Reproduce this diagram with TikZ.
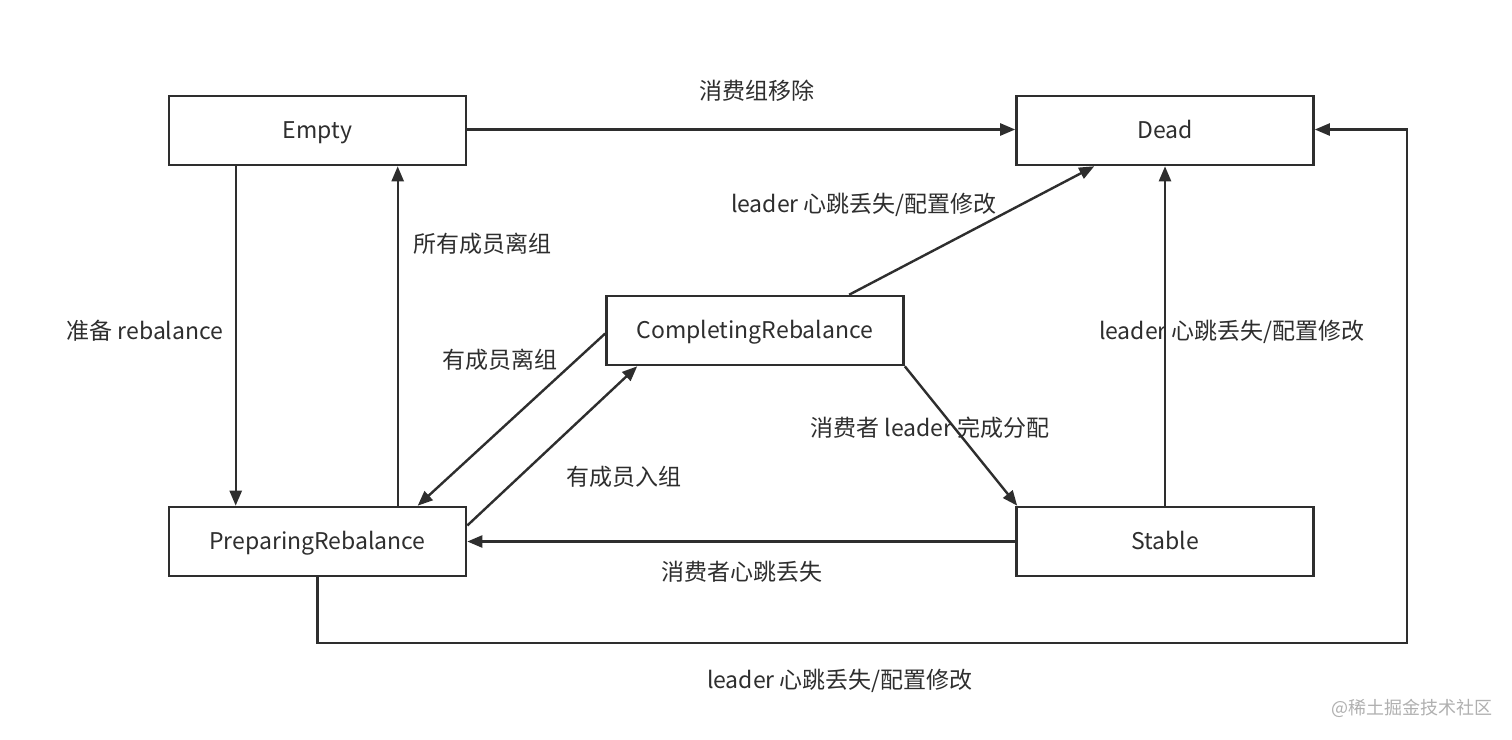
\documentclass[tikz,border=0pt]{standalone}
\usepackage{fontspec}
\setmainfont{Noto Sans CJK SC}
\usetikzlibrary{arrows.meta}
\definecolor{ink}{HTML}{2E2E2E}
\definecolor{wm}{HTML}{B0B0B0}
\begin{document}
\begin{tikzpicture}[x=1pt,y=-1pt,
  txt/.style={font=\fontsize{23}{27}\selectfont,text height=20pt,text depth=4pt},
  state/.style={draw=ink,line width=2.6pt,fill=white,minimum width=297pt,minimum height=69pt,inner sep=0pt,text=ink,txt},
  lbl/.style={text=ink,inner sep=0pt,txt},
  arr/.style={draw=ink,line width=2.4pt,-{Triangle[width=12pt,length=15pt]}}]
\fill[white] (0,0) rectangle (1512,739);
\useasboundingbox (0,0) rectangle (1512,739);
\node[state] (empty) at (317.5,130.5) {Empty};
\node[state] (dead) at (1165,130.5) {Dead};
\node[state] (comp) at (755,330.5) {CompletingRebalance};
\node[state] (prep) at (317.5,541.5) {PreparingRebalance};
\node[state] (stable) at (1165,541.5) {Stable};
\coordinate (loopc) at (1407,643);
% connectors
\draw[arr] ([yshift=1pt]empty.east) -- ([yshift=1pt]dead.west);
\draw[arr] ([xshift=68pt]empty.south west) -- ([xshift=68pt]prep.north west);
\draw[arr] ([xshift=230pt]prep.north west) -- ([xshift=230pt]empty.south west);
\draw[arr] ([xshift=244pt]comp.north west) -- ([xshift=79pt]dead.south west);
\draw[arr] ([yshift=-3pt]comp.west) -- ([xshift=250pt]prep.north west);
\draw[arr] ([yshift=16pt]prep.east) -- ([xshift=32pt]comp.south west);
\draw[arr] (comp.south east) -- ([xshift=2pt]stable.north west);
\draw[arr] (stable.west) -- (prep.east);
\draw[arr] (stable.north) -- (dead.south);
\draw[arr] (prep.south) |- (loopc) |- ([yshift=1pt]dead.east);
% labels
\node[lbl] (l1) at (757,91) {消费组移除};
\node[lbl] (l2) at (145,331) {准备 rebalance};
\node[lbl] (l3) at (482,244) {所有成员离组};
\node[lbl] (l4) at (864,204) {leader 心跳丢失/配置修改};
\node[lbl] (l5) at (500,360) {有成员离组};
\node[lbl] (l6) at (624,477) {有成员入组};
\node[lbl] (l7) at (930,428) {消费者 leader 完成分配};
\node[lbl] (l8) at (742,572) {消费者心跳丢失};
\node[lbl] (l9) at (1232,331) {leader 心跳丢失/配置修改};
\node[lbl] (l10) at (840,680) {leader 心跳丢失/配置修改};
\node[text=wm,inner sep=0pt,font=\fontsize{18}{21}\selectfont] (wmk) at (1412,708) {@稀土掘金技术社区};
\end{tikzpicture}
\end{document}
